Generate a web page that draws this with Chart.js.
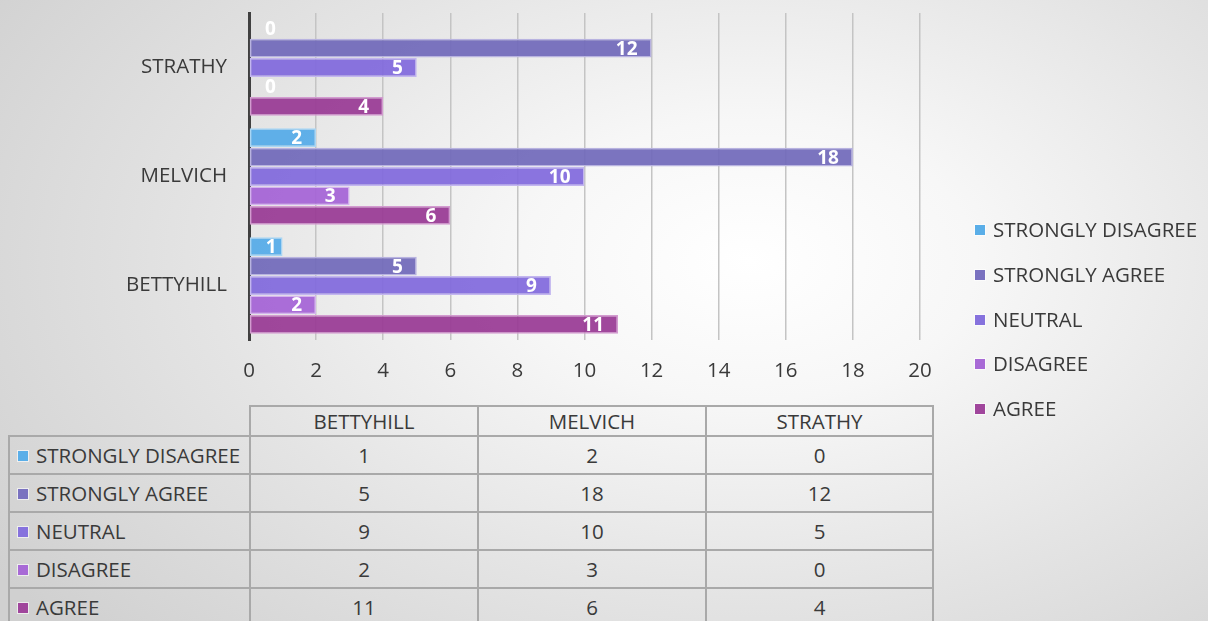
<!DOCTYPE html>
<html>
<head>
<meta charset="utf-8">
<script src="https://cdn.jsdelivr.net/npm/chart.js@4.4.1/dist/chart.umd.min.js"></script>
<style>
  html, body {
    margin: 0;
    padding: 0;
    width: 1208px;
    height: 621px;
    overflow: hidden;
    font-family: "Open Sans", "Noto Sans", sans-serif;
    color: #3a3a3a;
  }
  body {
    position: relative;
    background: radial-gradient(ellipse 75% 90% at 62% 42%, #ffffff 0%, #f7f7f7 25%, #e4e4e4 60%, #d0d0d0 100%);
  }
  #chart-wrap {
    position: absolute;
    left: 0;
    top: 0;
    width: 1208px;
    height: 395px;
  }
  #legend {
    position: absolute;
    left: 975px;
    top: 215px;
    font-size: 20.5px;
  }
  #legend .item {
    height: 44.8px;
    line-height: 28px;
    white-space: nowrap;
  }
  .swatch {
    display: inline-block;
    width: 10px;
    height: 10px;
    margin-right: 8px;
    vertical-align: 2px;
    box-shadow: 0 0 0 1px rgba(255,255,255,0.6);
  }
  #data-table {
    position: absolute;
    left: 8px;
    top: 405px;
    border-collapse: collapse;
    table-layout: fixed;
    width: 924px;
    font-size: 20.5px;
  }
  #data-table td {
    border: 2px solid #a9a9a9;
    text-align: center;
    padding: 0;
    height: 36px;
    overflow: hidden;
  }
  #data-table tr.head td {
    height: 28px;
  }
  #data-table td.corner {
    border: none;
  }
  #data-table td.row-name {
    text-align: left;
    padding-left: 8px;
    white-space: nowrap;
  }
</style>
</head>
<body>
<div id="chart-wrap"><canvas id="survey-chart" width="1208" height="395"></canvas></div>
<div id="legend"></div>
<table id="data-table">
  <colgroup><col style="width:241px"><col style="width:228px"><col style="width:228px"><col style="width:227px"></colgroup>
</table>

<script>
// Villages and answer counts per response
const villages = ['BETTYHILL', 'MELVICH', 'STRATHY'];
const responses = ['STRONGLY DISAGREE', 'STRONGLY AGREE', 'NEUTRAL', 'DISAGREE', 'AGREE'];

const stronglyDisagree = [1, 2, 0];
const stronglyAgree = [5, 18, 12];
const neutral = [9, 10, 5];
const disagree = [2, 3, 0];
const agree = [11, 6, 4];

const xTicks = [0, 2, 4, 6, 8, 10, 12, 14, 16, 18, 20];

const seriesValues = [stronglyDisagree, stronglyAgree, neutral, disagree, agree];
const fillColors = [
    'rgba(84, 170, 232, 0.92)',
    'rgba(112, 104, 186, 0.92)',
    'rgba(128, 104, 220, 0.92)',
    'rgba(164, 98, 214, 0.92)',
    'rgba(152, 56, 148, 0.92)'
];
const edgeColors = ['#a9d6f4', '#b8b3e0', '#c3b6ef', '#d4b3ee', '#d39bd0'];
const swatchColors = ['#5aaee8', '#7a72c0', '#8672dd', '#a86ad6', '#a0469c'];

// Bars run top to bottom: STRATHY, MELVICH, BETTYHILL
const chartLabels = villages.slice().reverse();

const datasets = responses.map((name, i) => ({
    label: name,
    data: seriesValues[i].slice().reverse(),
    backgroundColor: fillColors[i],
    borderColor: edgeColors[i],
    borderWidth: 1.5,
    borderSkipped: false,
    categoryPercentage: 0.89,
    barPercentage: 0.97
}));

// White value labels drawn just inside the end of each bar
const valueLabels = {
    id: 'valueLabels',
    afterDatasetsDraw(chart) {
        const ctx = chart.ctx;
        ctx.save();
        ctx.font = 'bold 19px "Open Sans", sans-serif';
        ctx.fillStyle = '#ffffff';
        ctx.textAlign = 'right';
        ctx.textBaseline = 'middle';
        chart.data.datasets.forEach((ds, di) => {
            const meta = chart.getDatasetMeta(di);
            meta.data.forEach((bar, j) => {
                const text = String(ds.data[j]);
                const w = ctx.measureText(text).width;
                const x = Math.max(bar.x - 14, bar.base + 16 + w);
                ctx.fillText(text, x, bar.y + 1);
            });
        });
        ctx.restore();
    }
};

const tickFont = { family: '"Open Sans", sans-serif', size: 20.5 };

const ctx = document.getElementById('survey-chart').getContext('2d');
new Chart(ctx, {
    type: 'bar',
    data: {
        labels: chartLabels,
        datasets: datasets
    },
    options: {
        indexAxis: 'y',
        responsive: false,
        animation: false,
        layout: {
            padding: { left: 0, right: 288, top: 13, bottom: 5 }
        },
        scales: {
            x: {
                min: 0,
                max: 20,
                afterBuildTicks: (scale) => {
                    scale.ticks = xTicks.map(v => ({ value: v }));
                },
                afterFit: (scale) => {
                    scale.height = 50;
                    scale.paddingLeft = 0;
                    scale.paddingRight = 0;
                },
                grid: {
                    color: '#c4c4c4',
                    lineWidth: 1.5,
                    drawTicks: false
                },
                border: { display: false },
                ticks: {
                    padding: 19,
                    color: '#3a3a3a',
                    font: tickFont
                }
            },
            y: {
                afterFit: (scale) => {
                    scale.width = 249;
                    scale.paddingTop = 0;
                    scale.paddingBottom = 0;
                },
                grid: { display: false, drawTicks: false },
                border: { display: true, color: '#404040', width: 3 },
                ticks: {
                    padding: 22,
                    color: '#3a3a3a',
                    font: tickFont
                }
            }
        },
        plugins: {
            legend: { display: false },
            tooltip: { enabled: false }
        }
    },
    plugins: [valueLabels]
});

// Legend on the right
const legend = document.getElementById('legend');
responses.forEach((name, i) => {
    const item = document.createElement('div');
    item.className = 'item';
    item.innerHTML = `<span class="swatch" style="background:${swatchColors[i]}"></span>${name}`;
    legend.appendChild(item);
});

// Data table under the chart
const table = document.getElementById('data-table');
const head = document.createElement('tr');
head.className = 'head';
head.innerHTML = '<td class="corner"></td>' + villages.map(v => `<td>${v}</td>`).join('');
table.appendChild(head);
responses.forEach((name, i) => {
    const row = document.createElement('tr');
    row.innerHTML = `<td class="row-name"><span class="swatch" style="background:${swatchColors[i]}"></span>${name}</td>` +
        seriesValues[i].map(v => `<td>${v}</td>`).join('');
    table.appendChild(row);
});
</script>
</body>
</html>
